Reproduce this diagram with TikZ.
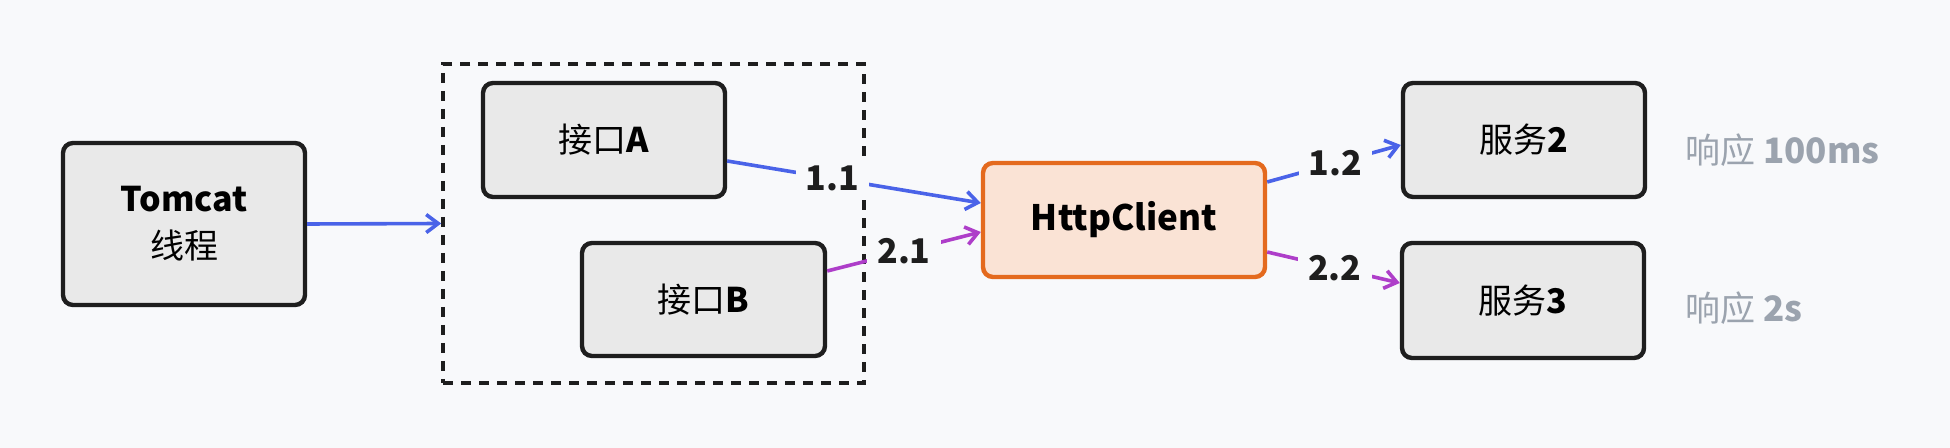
\documentclass[tikz,border=0pt]{standalone}
\usepackage{fontspec}
\setmainfont{Noto Sans CJK SC}
\usetikzlibrary{arrows.meta,calc}
\definecolor{bgc}{HTML}{F8F9FB}
\definecolor{boxfill}{HTML}{E9E9E9}
\definecolor{boxline}{HTML}{1E1E1E}
\definecolor{bluel}{HTML}{4A63E8}
\definecolor{purpl}{HTML}{AE3EC9}
\definecolor{orgl}{HTML}{E46A1E}
\definecolor{orgf}{HTML}{FAE3D5}
\definecolor{greyt}{HTML}{9BA3AE}
\begin{document}
\begin{tikzpicture}[x=0.5pt,y=-0.5pt,
  box/.style={draw=boxline,fill=boxfill,line width=2.2pt,rounded corners=5pt,inner sep=0pt,align=center,font=\fontsize{17}{23.5}\selectfont},
  hcbox/.style={draw=orgl,fill=orgf,line width=2.2pt,rounded corners=5pt,inner sep=0pt,font=\fontsize{17.5}{21}\selectfont\bfseries},
  grp/.style={draw=boxline,line width=1.8pt,dash pattern=on 5pt off 4pt,inner sep=0pt},
  conn/.style={line width=1.8pt,-{Straight Barb[length=6pt,width=9pt,line width=1.8pt]}},
  lbl/.style={fill=bgc,inner xsep=5pt,inner ysep=2pt,font=\fontsize{17}{20}\selectfont\bfseries,text=boxline},
  note/.style={anchor=west,inner sep=0pt,text=greyt,font=\fontsize{17.5}{21}\selectfont}]
\fill[bgc] (0,0) rectangle (1950,448);
\useasboundingbox (0,0) rectangle (1950,448);

\node[box,minimum width=121pt,minimum height=81pt] (tom) at (184,224) {{\bfseries Tomcat}\\线程};
\node[grp,minimum width=210.5pt,minimum height=159.5pt] (grp) at (653.5,223.5) {};
\node[box,minimum width=121pt,minimum height=57pt] (ia) at (604,140) {接口\textbf{A}};
\node[box,minimum width=121.5pt,minimum height=56.5pt] (ib) at (703.5,299.5) {接口\textbf{B}};
\node[hcbox,minimum width=141pt,minimum height=57pt] (hc) at (1124,220) {HttpClient};
\node[box,minimum width=121pt,minimum height=57pt] (s2) at (1524,140) {服务\textbf{2}};
\node[box,minimum width=121pt,minimum height=57.5pt] (s3) at (1523,300.5) {服务\textbf{3}};
\node[note] (n2) at (1685,150) {响应 \textbf{100ms}};
\node[note] (n3) at (1685,308) {响应 \textbf{2s}};

\draw[conn,bluel] (tom.east) -- (grp.west);
\draw[conn,bluel] ([yshift=-10.5pt]ia.east) -- node[lbl,pos=0.415] (l11) {1.1} ([yshift=8.5pt]hc.west);
\draw[conn,purpl] ([yshift=14.25pt]ib.east) -- node[lbl,pos=0.5] (l21) {2.1} ([yshift=-6pt]hc.west);
\draw[conn,bluel] ([yshift=19pt]hc.east) -- node[lbl,pos=0.51] (l12) {1.2} ([yshift=-2.5pt]s2.west);
\draw[conn,purpl] ([yshift=-16pt]hc.east) -- node[lbl,pos=0.51] (l22) {2.2} ([yshift=8.75pt]s3.west);
\end{tikzpicture}
\end{document}
